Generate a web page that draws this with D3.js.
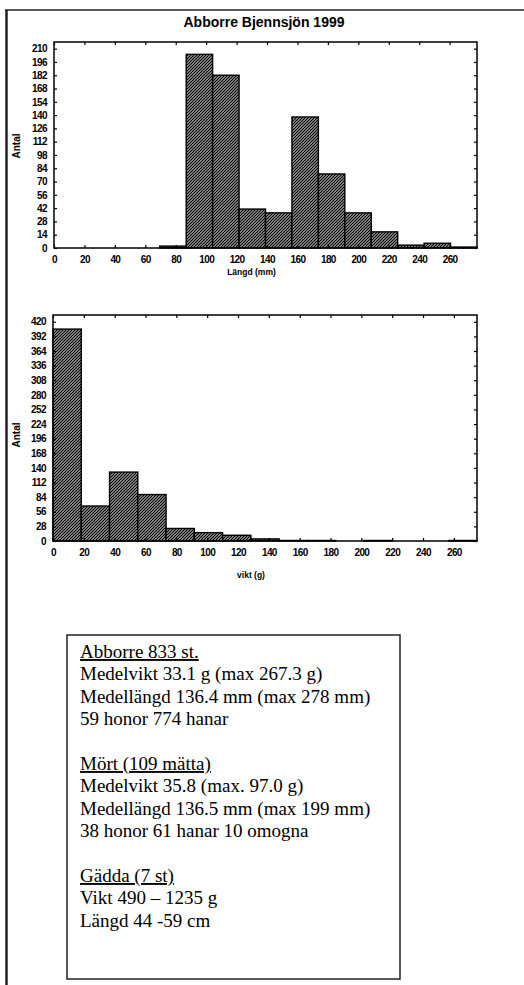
<!DOCTYPE html>
<html>
<head>
<meta charset="utf-8">
<script src="https://cdn.jsdelivr.net/npm/d3@7"></script>
<style>
    html, body { margin: 0; padding: 0; background: #fff; }
    svg { display: block; }
    .tick text { font-family: "Liberation Sans", Arial, sans-serif; font-weight: bold; font-size: 10px; letter-spacing: -0.6px; fill: #000; }
</style>
</head>
<body>
<svg id="chart" width="524" height="985"></svg>
<script>
const chartTitle = "Abborre Bjennsjön 1999";

// längd (mm): 16 klasser 0-278
const lengthRange = [0, 278];
const lengthCounts = [0, 0, 0, 0, 2, 204, 182, 41, 37, 138, 78, 37, 17, 3, 5, 1];
const lengthTicks = [0, 20, 40, 60, 80, 100, 120, 140, 160, 180, 200, 220, 240, 260];
const lengthYTicks = [0, 14, 28, 42, 56, 70, 84, 98, 112, 126, 140, 154, 168, 182, 196, 210];

// vikt (g): 15 klasser 0-275
const weightRange = [0, 275];
const weightCounts = [406, 67, 132, 89, 24, 16, 11, 4, 1, 1, 0, 1, 0, 0, 1];
const weightTicks = [0, 20, 40, 60, 80, 100, 120, 140, 160, 180, 200, 220, 240, 260];
const weightYTicks = [0, 28, 56, 84, 112, 140, 168, 196, 224, 252, 280, 308, 336, 364, 392, 420];

const infoLines = [
    { text: "Abborre 833 st.", head: true },
    { text: "Medelvikt 33.1 g (max 267.3 g)" },
    { text: "Medellängd 136.4 mm (max 278 mm)" },
    { text: "59 honor 774 hanar" },
    { text: "" },
    { text: "Mört (109 mätta)", head: true },
    { text: "Medelvikt 35.8 (max. 97.0 g)" },
    { text: "Medellängd 136.5 mm (max 199 mm)" },
    { text: "38 honor 61 hanar 10 omogna" },
    { text: "" },
    { text: "Gädda (7 st)", head: true },
    { text: "Vikt 490 – 1235 g" },
    { text: "Längd 44 -59 cm" }
];

const svg = d3.select("#chart");

const defs = svg.append("defs");
defs.append("pattern")
    .attr("id", "hatch")
    .attr("patternUnits", "userSpaceOnUse")
    .attr("width", 3)
    .attr("height", 3)
    .call(p => {
        p.append("rect").attr("width", 3).attr("height", 3).attr("fill", "#fff");
        p.append("path")
            .attr("d", "M-1,1 l2,-2 M0,3 l3,-3 M2,4 l2,-2")
            .attr("stroke", "#000")
            .attr("stroke-width", 1.45);
    });

// page frame
svg.append("line").attr("x1", 5).attr("x2", 524).attr("y1", 10).attr("y2", 10)
    .attr("stroke", "#222").attr("stroke-width", 1.5);
svg.append("line").attr("x1", 6.5).attr("x2", 6.5).attr("y1", 10).attr("y2", 985)
    .attr("stroke", "#222").attr("stroke-width", 2.5);

svg.append("text")
    .attr("x", 264).attr("y", 27)
    .attr("text-anchor", "middle")
    .style("font-family", "'Liberation Sans', Arial, sans-serif")
    .style("font-weight", "bold")
    .style("font-size", "14px")
    .text(chartTitle);

function drawHistogram(opts) {
    const { x0, x1, y0, y1, range, counts, yMax, xTicks, yTicks, xLabel, xLabelY, yLabelY } = opts;
    const x = d3.scaleLinear().domain(range).range([x0, x1]);
    const y = d3.scaleLinear().domain([0, yMax]).range([y1, y0]);
    const binW = (range[1] - range[0]) / counts.length;
    const bins = counts.map((c, i) => ({ a: range[0] + i * binW, b: range[0] + (i + 1) * binW, c }));

    const g = svg.append("g");

    g.selectAll(".bar")
        .data(bins.filter(d => d.c > 0))
        .enter().append("rect")
        .attr("class", "bar")
        .attr("x", d => x(d.a))
        .attr("width", d => x(d.b) - x(d.a))
        .attr("y", d => y(d.c))
        .attr("height", d => y(0) - y(d.c))
        .attr("fill", "url(#hatch)")
        .attr("stroke", "#000")
        .attr("stroke-width", 1.4);

    g.append("g").attr("transform", `translate(0,${y1})`)
        .call(d3.axisBottom(x).tickValues(xTicks).tickSize(-3).tickPadding(8));
    g.append("g").attr("transform", `translate(0,${y0})`)
        .call(d3.axisTop(x).tickValues(xTicks).tickSize(-3).tickFormat(""));
    g.append("g").attr("transform", `translate(${x0},0)`)
        .call(d3.axisLeft(y).tickValues(yTicks).tickSize(-3).tickPadding(7));
    g.append("g").attr("transform", `translate(${x1},0)`)
        .call(d3.axisRight(y).tickValues(yTicks).tickSize(-3).tickFormat(""));
    g.selectAll(".domain").remove();
    g.selectAll(".tick line").attr("stroke", "#000").attr("stroke-width", 1.2);

    g.append("rect")
        .attr("x", x0).attr("y", y0)
        .attr("width", x1 - x0).attr("height", y1 - y0)
        .attr("fill", "none").attr("stroke", "#000").attr("stroke-width", 1.5);

    g.append("text")
        .attr("transform", `translate(20,${yLabelY}) rotate(-90)`)
        .attr("text-anchor", "middle")
        .style("font-family", "'Liberation Sans', Arial, sans-serif")
        .style("font-weight", "bold")
        .style("font-size", "10px")
        .text("Antal");

    g.append("text")
        .attr("x", (x0 + x1) / 2 - 14).attr("y", xLabelY)
        .attr("text-anchor", "middle")
        .style("font-family", "'Liberation Sans', Arial, sans-serif")
        .style("font-weight", "bold")
        .style("font-size", "8.5px")
        .text(xLabel);
}

drawHistogram({
    x0: 54, x1: 477, y0: 42, y1: 248,
    range: lengthRange, counts: lengthCounts, yMax: 217,
    xTicks: lengthTicks, yTicks: lengthYTicks,
    xLabel: "Längd (mm)", xLabelY: 275, yLabelY: 146
});

drawHistogram({
    x0: 53, x1: 477, y0: 315, y1: 541,
    range: weightRange, counts: weightCounts, yMax: 433,
    xTicks: weightTicks, yTicks: weightYTicks,
    xLabel: "vikt (g)", xLabelY: 578, yLabelY: 435
});

// info box
svg.append("rect")
    .attr("x", 67).attr("y", 635)
    .attr("width", 333).attr("height", 344)
    .attr("fill", "none").attr("stroke", "#222").attr("stroke-width", 1.5);

svg.append("g").selectAll("text")
    .data(infoLines)
    .enter().append("text")
    .attr("x", 80)
    .attr("y", (d, i) => 658 + i * 22.4)
    .style("font-family", "'Liberation Serif', 'Times New Roman', serif")
    .style("font-size", "19px")
    .style("text-decoration", d => d.head ? "underline" : null)
    .text(d => d.text);
</script>
</body>
</html>
